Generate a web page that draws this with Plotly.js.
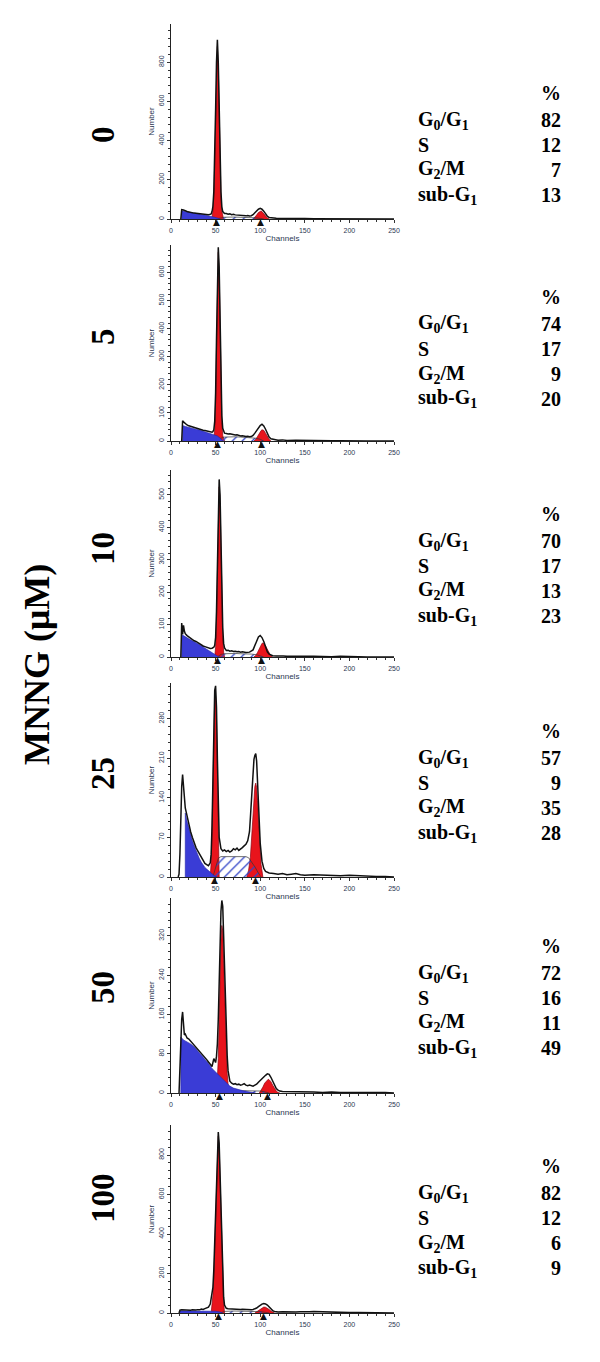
<!DOCTYPE html>
<html>
<head>
<meta charset="utf-8">
<script src="https://cdn.plot.ly/plotly-3.0.1.min.js"></script>
<style>html,body{margin:0;padding:0;background:#fff;}#chart{width:600px;height:1362px;}</style>
</head>
<body>
<div id="chart"></div>
<script>
// ---------------- DATA ----------------
const doses = ['0', '5', '10', '25', '50', '100'];
const phaseLabels = ['G<sub>0</sub>/G<sub>1</sub>', 'S', 'G<sub>2</sub>/M', 'sub-G<sub>1</sub>'];
const pct_0 = [82, 12, 7, 13];
const pct_5 = [74, 17, 9, 20];
const pct_10 = [70, 17, 13, 23];
const pct_25 = [57, 9, 35, 28];
const pct_50 = [72, 16, 11, 49];
const pct_100 = [82, 12, 6, 9];
const yTickStep = [200, 100, 100, 70, 80, 200];
const yMax = [995, 698, 577, 343, 397, 952];
const xTicks = [0, 50, 100, 150, 200, 250];

// peak markers (channels)
const tri_0 = [51, 100];
const tri_5 = [52, 102];
const tri_10 = [52, 102];
const tri_25 = [49, 95];
const tri_50 = [54, 108];
const tri_100 = [53, 104];

// ---- 0 uM ----
const out0_x = [11,12,14,16,18,20,22,24,26,28, 30,32,34,36,38,40,42,44,45,46, 47,48,49,50,51,52,53,54,55,56, 57,58,60,62,64,66,68,70,72,74, 76,78,80,82,84,86,88,90,92,94, 96,98,100,102,104,106,108,110,114,118, 122,126,130,135,140,145,150,160,170,180, 190,200,220,240,250];
const out0_y = [0,48,46,40,38,36,33,34,30,29, 28,27,26,24,25,23,22,24,26,38, 65,140,305,555,800,915,800,560,305,140, 62,38,28,28,24,26,22,24,21,20, 22,18,19,17,16,18,15,17,22,32, 42,50,54,50,40,26,14,8,5,4, 3,4,3,2,3,4,2,1,1,0, 1,0,0,0,0];
const blue0_x = [12,12,16,20,24,28,32,36,40,44,48,52,55];
const blue0_y = [0,42,38,34,31,28,25,22,19,15,10,5,0];
const g1_0_x = [45,46,47,48,49,50,51,52,53,54,55,56,57,58,59];
const g1_0_y = [0,10,39,119,285,534,777,880,777,534,285,119,39,10,0];
const g2_0_x = [92,94,96,98,100,101,102,104,106,108,110];
const g2_0_y = [0,8,20,33,40,41,38,27,14,5,0];
const s0_x = [50,55,60,70,80,90,95,100,104];
const s0_y = [0,6,9,10,9,8,6,3,0];

// ---- 5 uM ----
const out5_x = [12,13,14,16,18,20,22,24,26,28, 30,32,34,36,38,40,42,44,46,47, 48,49,50,51,52,53,54,55,56,57, 58,59,60,62,64,66,68,70,72,74, 76,78,80,82,84,86,88,90,92,94, 96,98,100,102,103,104,106,108,110,112, 116,120,125,130,140,150,160,170,180,190, 200,220,250];
const out5_y = [0,72,68,62,57,54,52,48,47,45, 44,42,40,38,37,36,33,32,31,34, 40,70,170,360,570,690,620,420,210,90, 45,32,28,27,25,26,24,22,21,22, 19,18,19,17,16,17,15,16,20,28, 38,48,55,60,58,54,42,26,14,8, 5,3,4,2,3,2,3,2,1,1, 0,0,0];
const blue5_x = [13,13,16,20,24,28,32,36,40,44,48,52,56,58];
const blue5_y = [0,55,52,48,45,42,39,35,32,28,24,18,8,0];
const g1_5_x = [47,48,49,50,51,52,53,54,55,56,57,58,59,60];
const g1_5_y = [0,10,40,140,330,540,672,600,400,190,70,20,5,0];
const g2_5_x = [93,95,97,99,101,102,103,104,106,108,110,112];
const g2_5_y = [0,6,16,28,37,40,40,38,28,15,6,0];
const s5_x = [52,56,60,66,72,78,84,90,95,100,104];
const s5_y = [0,10,14,15,15,14,13,12,10,6,0];

// ---- 10 uM ----
const out10_x = [11,12,13,14,15,16,18,20,22,24, 26,28,30,32,34,36,38,40,42,44, 46,48,49,50,51,52,53,54,55,56, 57,58,59,60,62,64,66,68,70,72, 74,76,78,80,84,88,92,94,96,98, 100,102,104,106,108,110,112,114,118,122, 126,130,140,150,160,170,180,190,200,210, 220,250];
const out10_y = [0,105,70,98,80,72,66,62,57,53, 50,48,44,40,38,34,32,30,27,26, 27,30,36,60,140,300,470,548,500,350, 200,90,42,28,20,21,18,19,17,18, 16,17,15,16,14,15,22,34,50,62, 66,60,48,30,16,9,6,4,3,4, 3,2,3,2,2,1,1,2,1,1, 0,0];
const blue10_x = [12,12,14,16,20,24,28,32,36,40,44,48,52,55];
const blue10_y = [0,68,66,62,56,50,45,38,31,24,16,9,3,0];
const g1_10_x = [49,50,51,52,53,54,55,56,57,58,59,60];
const g1_10_y = [0,30,110,270,440,525,480,330,180,70,15,0];
const g2_10_x = [93,95,97,99,101,102,103,104,106,108,110,112,114];
const g2_10_y = [0,5,14,26,38,42,43,42,34,22,10,3,0];
const s10_x = [52,56,60,66,72,78,84,90,96,100,104];
const s10_y = [0,8,10,11,11,10,10,9,7,4,0];

// ---- 25 uM ----
const out25_x = [8,9,10,11,12,13,14,15,16,17, 18,20,22,24,26,28,30,32,34,36, 38,40,42,44,45,46,47,48,49,50, 51,52,53,54,56,58,60,62,64,66, 68,70,72,74,76,78,80,82,84,86, 88,89,90,91,92,93,94,95,96,97, 98,99,100,102,104,106,108,110,115,120, 125,130,135,140,145,150,160,170,180,190, 200,210,220,230,240,250];
const out25_y = [0,5,40,110,160,181,160,135,122,115, 108,90,80,70,60,52,46,40,34,28, 24,22,20,25,40,90,180,270,330,338, 300,210,120,70,50,46,48,45,47,44, 46,50,48,51,47,49,52,55,58,64, 80,105,135,168,195,208,215,218,205,170, 130,92,60,28,15,10,9,7,6,5, 6,4,5,6,4,3,4,3,3,2, 3,2,2,1,1,0];
const blue25_x = [16,16,18,20,22,24,26,28,30,32,34,36,38,40,42,44,46,48,50,52];
const blue25_y = [0,113,98,85,74,64,55,46,39,32,26,21,17,14,11,8,5,3,1,0];
const g1_25_x = [44,45,46,47,48,49,50,51,52,53,54];
const g1_25_y = [0,25,80,170,260,315,320,280,190,90,0];
const g2_25_x = [85,87,89,90,91,92,93,94,95,96,97,98,99,100,101,103];
const g2_25_y = [0,12,35,60,90,120,145,160,166,158,135,105,72,45,22,0];
const s25_x = [47,50,53,56,60,66,72,78,84,87,90,94,98,101];
const s25_y = [0,18,33,36,36,36,36,36,36,34,28,18,7,0];

// ---- 50 uM ----
const out50_x = [9,10,11,12,13,14,15,16,18,20, 22,24,26,28,30,32,34,36,38,40, 42,44,46,48,50,51,52,53,54,55, 56,57,58,59,60,61,62,63,64,65, 66,68,70,72,74,76,78,80,82,84, 86,88,90,92,94,96,98,100,102,104, 106,108,110,112,114,116,118,120,122,125, 130,135,140,150,160,170,180,190,200,210, 220,230,240,250];
const out50_y = [0,60,125,150,165,130,118,120,112,110, 106,102,98,93,88,84,80,76,72,68, 63,58,54,70,62,75,100,150,230,310, 370,392,380,320,250,180,120,75,45,30, 24,20,18,19,17,18,16,17,19,16, 15,16,15,14,16,18,22,26,30,34, 36,39,38,32,24,16,9,6,4,3, 3,2,3,2,2,1,2,1,1,2, 1,1,1,0];
const blue50_x = [11,11,14,18,22,26,30,34,38,42,46,50,54,58,62,66,70,75,80,85,90,95];
const blue50_y = [0,114,108,104,100,94,86,78,70,60,50,43,36,27,20,14,10,7,5,3,2,0];
const g1_50_x = [50,51,52,53,54,55,56,57,58,59,60,61,62,63,64,65,66];
const g1_50_y = [0,10,30,70,150,240,310,341,330,270,200,130,75,40,18,6,0];
const g2_50_x = [99,101,103,105,107,108,109,110,112,114,116,118,120,122];
const g2_50_y = [0,5,12,20,25,27,28,27,23,16,9,4,1,0];
const s50_x = [55,60,70,80,90,100,106,110];
const s50_y = [0,4,5,5,5,4,2,0];

// ---- 100 uM ----
const out100_x = [9,10,12,14,16,18,20,22,24,26, 28,30,32,34,36,38,40,42,44,45, 46,47,48,49,50,51,52,53,54,55, 56,57,58,59,60,61,62,64,66,68, 70,72,74,76,78,80,82,84,86,88, 90,92,94,96,98,100,102,104,106,108, 110,112,114,116,118,120,125,130,135,140, 145,150,155,160,165,170,175,180,190,200, 210,220,230,240,250];
const out100_y = [0,14,16,15,14,16,15,14,16,15, 15,17,16,20,18,22,25,30,45,70, 90,130,220,370,560,740,870,916,860,700, 500,320,170,80,40,28,24,22,21,22, 20,21,19,20,18,19,18,17,18,17, 16,18,20,25,32,40,45,48,46,40, 30,20,12,8,6,5,6,5,6,5, 6,5,6,7,6,6,4,3,2,2, 3,2,2,1,0];
const blue100_x = [10,10,20,30,40,50,55,58];
const blue100_y = [0,10,10,10,10,9,5,0];
const g1_100_x = [45,46,47,48,49,50,51,52,53,54,55,56,57,58,59,60];
const g1_100_y = [0,40,90,180,330,520,700,840,895,840,680,480,300,150,60,0];
const g2_100_x = [94,96,98,100,102,104,106,108,110,112,114,116];
const g2_100_y = [0,6,14,22,28,30,29,25,18,10,4,0];
const s100_x = [55,60,70,80,90,100,106,110];
const s100_y = [0,8,10,10,9,7,3,0];

// ---------------- BUILD ----------------
const panels = [
  {out:[out0_x,out0_y], blue:[blue0_x,blue0_y], g1:[g1_0_x,g1_0_y], g2:[g2_0_x,g2_0_y], s:[s0_x,s0_y], tri:tri_0, pct:pct_0},
  {out:[out5_x,out5_y], blue:[blue5_x,blue5_y], g1:[g1_5_x,g1_5_y], g2:[g2_5_x,g2_5_y], s:[s5_x,s5_y], tri:tri_5, pct:pct_5},
  {out:[out10_x,out10_y], blue:[blue10_x,blue10_y], g1:[g1_10_x,g1_10_y], g2:[g2_10_x,g2_10_y], s:[s10_x,s10_y], tri:tri_10, pct:pct_10},
  {out:[out25_x,out25_y], blue:[blue25_x,blue25_y], g1:[g1_25_x,g1_25_y], g2:[g2_25_x,g2_25_y], s:[s25_x,s25_y], tri:tri_25, pct:pct_25},
  {out:[out50_x,out50_y], blue:[blue50_x,blue50_y], g1:[g1_50_x,g1_50_y], g2:[g2_50_x,g2_50_y], s:[s50_x,s50_y], tri:tri_50, pct:pct_50},
  {out:[out100_x,out100_y], blue:[blue100_x,blue100_y], g1:[g1_100_x,g1_100_y], g2:[g2_100_x,g2_100_y], s:[s100_x,s100_y], tri:tri_100, pct:pct_100}
];

// layout geometry (pixels)
const W = 600, H = 1362;
const plotTop = [24, 245, 470, 683, 898, 1125];
const plotBot = [219, 441, 657, 877, 1093, 1313];
const tableTop = [93, 297, 514, 731, 946, 1166];   // "%" row centre
const tableRowGap = 25;
const doseY = [135, 337, 549, 774, 988, 1198];
const XL = 171, XR = 394;

const RED = '#e8141c', BLUE = '#3a3cd6', HATCH = '#3346c8';
const serif = 'Liberation Serif, Times New Roman, serif';
const sans = 'Liberation Sans, Arial, sans-serif';
const axisInk = '#2b3652';

const traces = [];
const layout = {
  width: W, height: H,
  margin: {l: 0, r: 0, t: 0, b: 0},
  paper_bgcolor: '#fff', plot_bgcolor: '#fff',
  showlegend: false,
  annotations: [],
  font: {family: sans}
};

panels.forEach((p, i) => {
  const n = i === 0 ? '' : String(i + 1);
  const xa = 'x' + n, ya = 'y' + n;
  const common = {xaxis: xa, yaxis: ya, hoverinfo: 'skip', mode: 'lines'};
  // red peaks first
  traces.push(Object.assign({}, common, {x: p.g1[0], y: p.g1[1], fill: 'tozeroy', fillcolor: RED, line: {color: '#900010', width: 0.7}}));
  traces.push(Object.assign({}, common, {x: p.g2[0], y: p.g2[1], fill: 'tozeroy', fillcolor: RED, line: {color: '#900010', width: 0.7}}));
  // S phase hatch
  traces.push(Object.assign({}, common, {x: p.s[0], y: p.s[1], fill: 'tozeroy',
    fillpattern: {shape: '/', fgcolor: HATCH, bgcolor: 'rgba(255,255,255,0)', size: 7, solidity: 0.18},
    line: {color: '#333', width: 0.7}}));
  // sub-G1 debris
  traces.push(Object.assign({}, common, {x: p.blue[0], y: p.blue[1], fill: 'tozeroy', fillcolor: BLUE, line: {color: '#2424a8', width: 0.6}}));
  // data outline
  traces.push(Object.assign({}, common, {x: p.out[0], y: p.out[1], line: {color: '#111', width: 1.5}}));

  // peak markers sitting on the axis
  p.tri.forEach(c => {
    layout.annotations.push({xref: xa, yref: ya + ' domain', x: c, y: 0,
      text: '\u25B2', showarrow: false, xanchor: 'center', yanchor: 'top', yshift: 4,
      font: {family: 'DejaVu Sans', size: 9, color: '#111'}});
  });

  layout['xaxis' + n] = {
    domain: [XL / W, XR / W], anchor: ya, range: [0, 250],
    tickvals: xTicks, ticktext: xTicks.map(String),
    ticks: 'outside', ticklen: 3, tickwidth: 1, tickcolor: '#333',
    minor: {dtick: 10, tick0: 0, ticks: 'outside', ticklen: 2, tickcolor: '#333'},
    ticklabelstandoff: 2,
    showline: true, linecolor: '#222', linewidth: 1,
    showgrid: false, zeroline: false, fixedrange: true,
    tickfont: {family: sans, size: 7, color: axisInk},
    title: {text: 'Channels', font: {family: sans, size: 8, color: axisInk}, standoff: 1}
  };
  layout['yaxis' + n] = {
    domain: [1 - plotBot[i] / H, 1 - plotTop[i] / H], anchor: xa, range: [0, yMax[i]],
    dtick: yTickStep[i], tick0: 0,
    ticks: 'outside', ticklen: 3, tickwidth: 1, tickcolor: '#333',
    minor: {dtick: yTickStep[i] / 5, ticks: 'outside', ticklen: 2, tickcolor: '#333'},
    tickangle: -90,
    showline: true, linecolor: '#222', linewidth: 1,
    showgrid: false, zeroline: false, fixedrange: true,
    tickfont: {family: sans, size: 7, color: axisInk},
    title: {text: 'Number', font: {family: sans, size: 8, color: axisInk}, standoff: 2}
  };

  // dose label
  layout.annotations.push({xref: 'paper', yref: 'paper', x: 103 / W, y: 1 - doseY[i] / H,
    text: '<b>' + doses[i] + '</b>', textangle: -90, showarrow: false,
    xanchor: 'center', yanchor: 'middle', font: {family: serif, size: 33, color: '#000'}});

  // % table
  layout.annotations.push({xref: 'paper', yref: 'paper', x: 563 / W, y: 1 - tableTop[i] / H,
    text: '<b>%</b>', showarrow: false, xanchor: 'right', yanchor: 'middle',
    font: {family: serif, size: 20, color: '#000'}});
  phaseLabels.forEach((lab, r) => {
    const yy = 1 - (tableTop[i] + (r + 1) * tableRowGap + 2) / H;
    layout.annotations.push({xref: 'paper', yref: 'paper', x: 416 / W, y: yy,
      text: '<b>' + lab + '</b>', showarrow: false, xanchor: 'left', yanchor: 'middle',
      font: {family: serif, size: 20, color: '#000'}});
    layout.annotations.push({xref: 'paper', yref: 'paper', x: 563 / W, y: yy,
      text: '<b>' + p.pct[r] + '</b>', showarrow: false, xanchor: 'right', yanchor: 'middle',
      font: {family: serif, size: 20, color: '#000'}});
  });
});

// global axis label
layout.annotations.push({xref: 'paper', yref: 'paper', x: 37 / W, y: 1 - 665 / H,
  text: '<b>MNNG (\u03bcM)</b>', textangle: -90, showarrow: false,
  xanchor: 'center', yanchor: 'middle', font: {family: serif, size: 36, color: '#000'}});

Plotly.newPlot('chart', traces, layout, {staticPlot: true, displayModeBar: false});
</script>
</body>
</html>
